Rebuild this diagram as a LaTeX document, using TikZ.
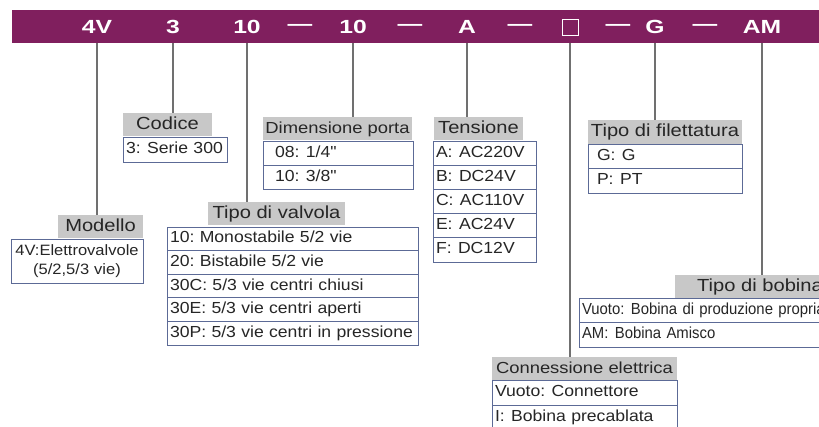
\documentclass[tikz,border=0pt]{standalone}
\usepackage{fontspec}
\setmainfont{Liberation Sans}
\newfontfamily\barfont[FakeStretch=1.3]{Liberation Sans}
\newfontfamily\hdrfont[FakeStretch=1.15]{Liberation Sans}
\newfontfamily\rowfont[FakeStretch=1.1]{Liberation Sans}
\newfontfamily\narrowfont[FakeStretch=0.93]{Liberation Sans}
\usetikzlibrary{positioning}
\frenchspacing

\definecolor{barpurple}{RGB}{128,31,94}
\definecolor{hdrgray}{RGB}{200,200,200}
\definecolor{boxblue}{RGB}{92,106,150}
\definecolor{linegray}{RGB}{112,112,112}

\newcommand{\fcol}{:\hspace{0.4em}}

\tikzset{
  code/.style = {text=white, inner sep=0pt, font=\barfont\bfseries\fontsize{19}{22}\selectfont},
  hdr/.style = {fill=hdrgray, anchor=north west, inner sep=0pt, outer sep=0pt, minimum height=23pt,
                text=black!85, text height=12.5pt, text depth=3.5pt, font=\hdrfont\fontsize{17.5}{20}\selectfont},
  cell/.style = {draw=boxblue, line width=0.8pt, fill=white, anchor=north west, outer sep=0pt,
                 inner ysep=0pt, inner xsep=3pt, align=left, text=black!85, font=\rowfont\fontsize{16}{19}\selectfont},
  row/.style = {cell, text height=11.5pt, text depth=3.5pt},
  lead/.style = {draw=linegray, line width=1.1pt}
}

\begin{document}
\begin{tikzpicture}[x=1pt, y=-1pt]
\useasboundingbox (0,0) rectangle (819,426);

% code bar
\node[fill=barpurple, anchor=north west, inner sep=0pt, minimum width=820pt, minimum height=33pt] (bar) at (12,10) {};
\node[code] (c4V) at (97,27) {4V};
\node[code] (c3) at (173,27) {3};
\node[code] (c10a) at (247,27) {10};
\node[code] (c10b) at (353,27) {10};
\node[code] (cA) at (467,27) {A};
\node[draw=white, line width=0.8pt, minimum size=16pt, inner sep=0pt] (cBox) at (570,27) {};
\node[code] (cG) at (655,27) {G};
\node[code] (cAM) at (762,27) {AM};
\foreach \x/\n in {300/1, 410/2, 520/3, 618/4, 705/5}
  \node[code] (dash\n) at (\x,27) {—};

% Modello
\node[hdr, minimum width=85pt] (hModel) at (58,215) {Modello};
\node[cell, text width=126pt, minimum height=44pt, align=center, font=\rowfont\fontsize{15}{19}\selectfont] (rModel) at (11,239) {4V:Elettrovalvole\\(5/2,5/3 vie)};

% Codice
\node[hdr, minimum width=89pt] (hCod) at (123,113) {Codice};
\node[row, text width=98pt, minimum height=25pt] (rCod) at (123,137) {3\fcol Serie 300};

% Tipo di valvola
\node[hdr, minimum width=137pt] (hValv) at (208,202) {Tipo di valvola};
\node[row, text width=245pt, minimum height=23.6pt] (rValv1) at (167,227) {10: Monostabile 5/2 vie};
\node[row, text width=245pt, minimum height=23.6pt, below=0pt of rValv1] (rValv2) {20: Bistabile 5/2 vie};
\node[row, text width=245pt, minimum height=23.6pt, below=0pt of rValv2] (rValv3) {30C: 5/3 vie centri chiusi};
\node[row, text width=245pt, minimum height=23.6pt, below=0pt of rValv3] (rValv4) {30E: 5/3 vie centri aperti};
\node[row, text width=245pt, minimum height=23.6pt, below=0pt of rValv4] (rValv5) {30P: 5/3 vie centri in pressione};

% Dimensione porta
\node[hdr, minimum width=149pt, font=\hdrfont\fontsize{16}{19}\selectfont] (hDim) at (263,117) {Dimensione porta};
\node[row, inner xsep=12pt, text width=126pt, minimum height=24pt] (rDim1) at (263,141) {08\fcol 1/4"};
\node[row, inner xsep=12pt, text width=126pt, minimum height=24pt, below=0pt of rDim1] (rDim2) {10\fcol 3/8"};

% Tensione
\node[hdr, minimum width=89pt] (hTen) at (434,117) {Tensione};
\node[row, text width=97pt, minimum height=24.2pt] (rTen1) at (433,141) {A\fcol AC220V};
\node[row, text width=97pt, minimum height=24.2pt, below=0pt of rTen1] (rTen2) {B\fcol DC24V};
\node[row, text width=97pt, minimum height=24.2pt, below=0pt of rTen2] (rTen3) {C\fcol AC110V};
\node[row, text width=97pt, minimum height=24.2pt, below=0pt of rTen3] (rTen4) {E\fcol AC24V};
\node[row, text width=97pt, minimum height=24.2pt, below=0pt of rTen4] (rTen5) {F\fcol DC12V};

% Connessione elettrica
\node[hdr, minimum width=185pt, font=\hdrfont\fontsize{16}{19}\selectfont] (hCon) at (492,357) {Connessione elettrica};
\node[row, text width=179pt, minimum height=25pt] (rCon1) at (492,380) {Vuoto\fcol Connettore};
\node[row, text width=179pt, minimum height=25pt, below=0pt of rCon1] (rCon2) {I\fcol Bobina precablata};

% Tipo di filettatura
\node[hdr, minimum width=154pt, minimum height=24pt] (hFil) at (588,120) {Tipo di filettatura};
\node[row, inner xsep=9pt, text width=136pt, minimum height=24.5pt] (rFil1) at (588,144) {G\fcol G};
\node[row, inner xsep=9pt, text width=136pt, minimum height=24.5pt, below=0pt of rFil1] (rFil2) {P\fcol PT};

% Tipo di bobina
\node[hdr, minimum width=170pt] (hBob) at (675,275) {Tipo di bobina};
\node[row, text width=254pt, minimum height=24.5pt, font=\narrowfont\fontsize{16}{19}\selectfont] (rBob1) at (579,298) {Vuoto\fcol Bobina di produzione propria};
\node[row, text width=254pt, minimum height=24.5pt, font=\narrowfont\fontsize{16}{19}\selectfont, below=0pt of rBob1] (rBob2) {AM\fcol Bobina Amisco};

% leads from the code bar
\draw[lead] (c4V |- bar.south) -- (c4V |- hModel.north);
\draw[lead] (c3 |- bar.south) -- (c3 |- hCod.north);
\draw[lead] (c10a |- bar.south) -- (c10a |- hValv.north);
\draw[lead] (c10b |- bar.south) -- (c10b |- hDim.north);
\draw[lead] (cA |- bar.south) -- (cA |- hTen.north);
\draw[lead] (cBox |- bar.south) -- (cBox |- hCon.north);
\draw[lead] (cG |- bar.south) -- (cG |- hFil.north);
\draw[lead] (cAM |- bar.south) -- (cAM |- hBob.north);
\end{tikzpicture}
\end{document}
